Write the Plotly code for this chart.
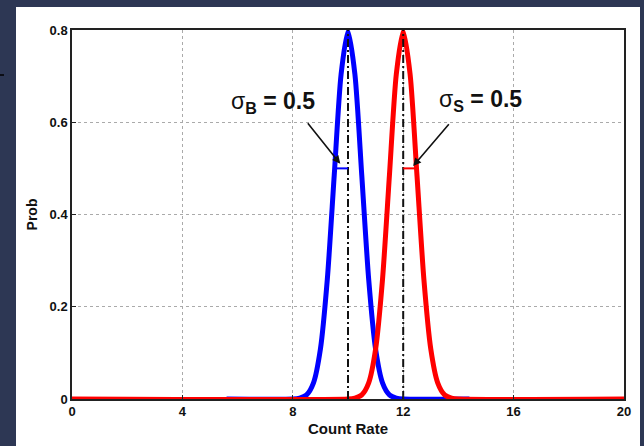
import plotly.graph_objects as go

# Background (B) and signal (S) count-rate distributions, sigma = 0.5 each
bg_x = [5.6, 8.0, 8.25, 8.5, 8.75, 9.0, 9.25, 9.5, 9.75, 10.0, 10.25, 10.5, 10.75,
        11.0, 11.25, 11.5, 11.75, 12.0, 14.4]
bg_y = [0.0, 0.0, 0.002, 0.009, 0.035, 0.108, 0.259, 0.484, 0.704, 0.798, 0.704,
        0.484, 0.259, 0.108, 0.035, 0.009, 0.002, 0.0, 0.0]

sig_x = [0.0, 10.0, 10.25, 10.5, 10.75, 11.0, 11.25, 11.5, 11.75, 12.0, 12.25, 12.5,
         12.75, 13.0, 13.25, 13.5, 13.75, 14.0, 20.0]
sig_y = [0.0, 0.0, 0.002, 0.009, 0.035, 0.108, 0.259, 0.484, 0.704, 0.798, 0.704,
         0.484, 0.259, 0.108, 0.035, 0.009, 0.002, 0.0, 0.0]

means = [10.0, 12.0]
sigma = 0.5
sigma_level = 0.5
peak = 0.8

x_ticks = [0, 4, 8, 12, 16, 20]
y_ticks = [0, 0.2, 0.4, 0.6, 0.8]
y_tick_text = ["0", "0.2", "0.4", "0.6", "0.8"]

BLUE = "#0000ff"
RED = "#ff0000"
NAVY = "#2d3754"
FONT = "Liberation Sans, Arial, sans-serif"

fig = go.Figure()

fig.add_trace(go.Scatter(x=bg_x, y=bg_y, mode="lines",
                         line=dict(color=BLUE, width=5, shape="spline", smoothing=0.7),
                         showlegend=False, hoverinfo="skip"))
fig.add_trace(go.Scatter(x=sig_x, y=sig_y, mode="lines",
                         line=dict(color=RED, width=5, shape="spline", smoothing=0.7),
                         showlegend=False, hoverinfo="skip"))

# dash-dot lines at each mean
for m in means:
    fig.add_trace(go.Scatter(x=[m, m], y=[0, peak], mode="lines",
                             line=dict(color="#111111", width=2, dash="8px,3px,2px,3px"),
                             showlegend=False, hoverinfo="skip"))

# one-sigma half-width markers
fig.add_trace(go.Scatter(x=[means[0] - sigma, means[0]], y=[sigma_level, sigma_level],
                         mode="lines", line=dict(color=BLUE, width=2),
                         showlegend=False, hoverinfo="skip"))
fig.add_trace(go.Scatter(x=[means[1], means[1] + sigma], y=[sigma_level, sigma_level],
                         mode="lines", line=dict(color=RED, width=2),
                         showlegend=False, hoverinfo="skip"))

# labels and arrows
fig.add_annotation(x=7.3, y=0.643, xref="x", yref="y", showarrow=False,
                   text="σ<sub><b>B</b></sub><b> = %g</b>" % sigma,
                   font=dict(family=FONT, size=23, color="#111111"), xanchor="center")
fig.add_annotation(x=means[0] - 0.28, y=sigma_level + 0.01, xref="x", yref="y",
                   ax=8.5, ay=0.601, axref="x", ayref="y", text="", showarrow=True,
                   arrowhead=2, arrowsize=1.0, arrowwidth=1.6, arrowcolor="#111111")

fig.add_annotation(x=14.8, y=0.647, xref="x", yref="y", showarrow=False,
                   text="σ<sub><b>S</b></sub><b> = %g</b>" % sigma,
                   font=dict(family=FONT, size=23, color="#111111"), xanchor="center")
fig.add_annotation(x=means[1] + 0.36, y=sigma_level + 0.005, xref="x", yref="y",
                   ax=13.7, ay=0.599, axref="x", ayref="y", text="", showarrow=True,
                   arrowhead=2, arrowsize=1.0, arrowwidth=1.6, arrowcolor="#111111")

# white panel on the dark page
fig.add_shape(type="rect", xref="paper", yref="paper",
              x0=(16 - 72) / 552, x1=(640 - 72) / 552,
              y0=(399 - 446) / 369, y1=(399 - 7) / 369,
              fillcolor="white", line=dict(width=0), layer="below")
fig.add_shape(type="line", xref="paper", yref="paper",
              x0=-72 / 552, x1=(4 - 72) / 552, y0=(399 - 75) / 369, y1=(399 - 75) / 369,
              line=dict(color="black", width=1.5))

axis_common = dict(showline=True, linecolor="#222222", linewidth=1.5, mirror=True,
                   ticks="inside", ticklen=4, tickcolor="#222222",
                   showgrid=True, gridcolor="#aaaaaa", griddash="dot", gridwidth=1,
                   zeroline=False,
                   tickfont=dict(family=FONT, size=13, color="#111111", weight="bold"))

fig.update_xaxes(range=[0, 20], tickvals=x_ticks,
                 title=dict(text="<b>Count Rate</b>", standoff=5,
                            font=dict(family=FONT, size=15, color="#111111")),
                 **axis_common)
fig.update_yaxes(range=[0, peak], tickvals=y_ticks, ticktext=y_tick_text,
                 title=dict(text="<b>Prob</b>", standoff=9,
                            font=dict(family=FONT, size=14, color="#111111")),
                 **axis_common)

fig.update_layout(width=644, height=446,
                  margin=dict(l=72, r=20, t=30, b=47, autoexpand=False),
                  paper_bgcolor=NAVY, plot_bgcolor="white",
                  showlegend=False)

fig.write_html("out.html")
